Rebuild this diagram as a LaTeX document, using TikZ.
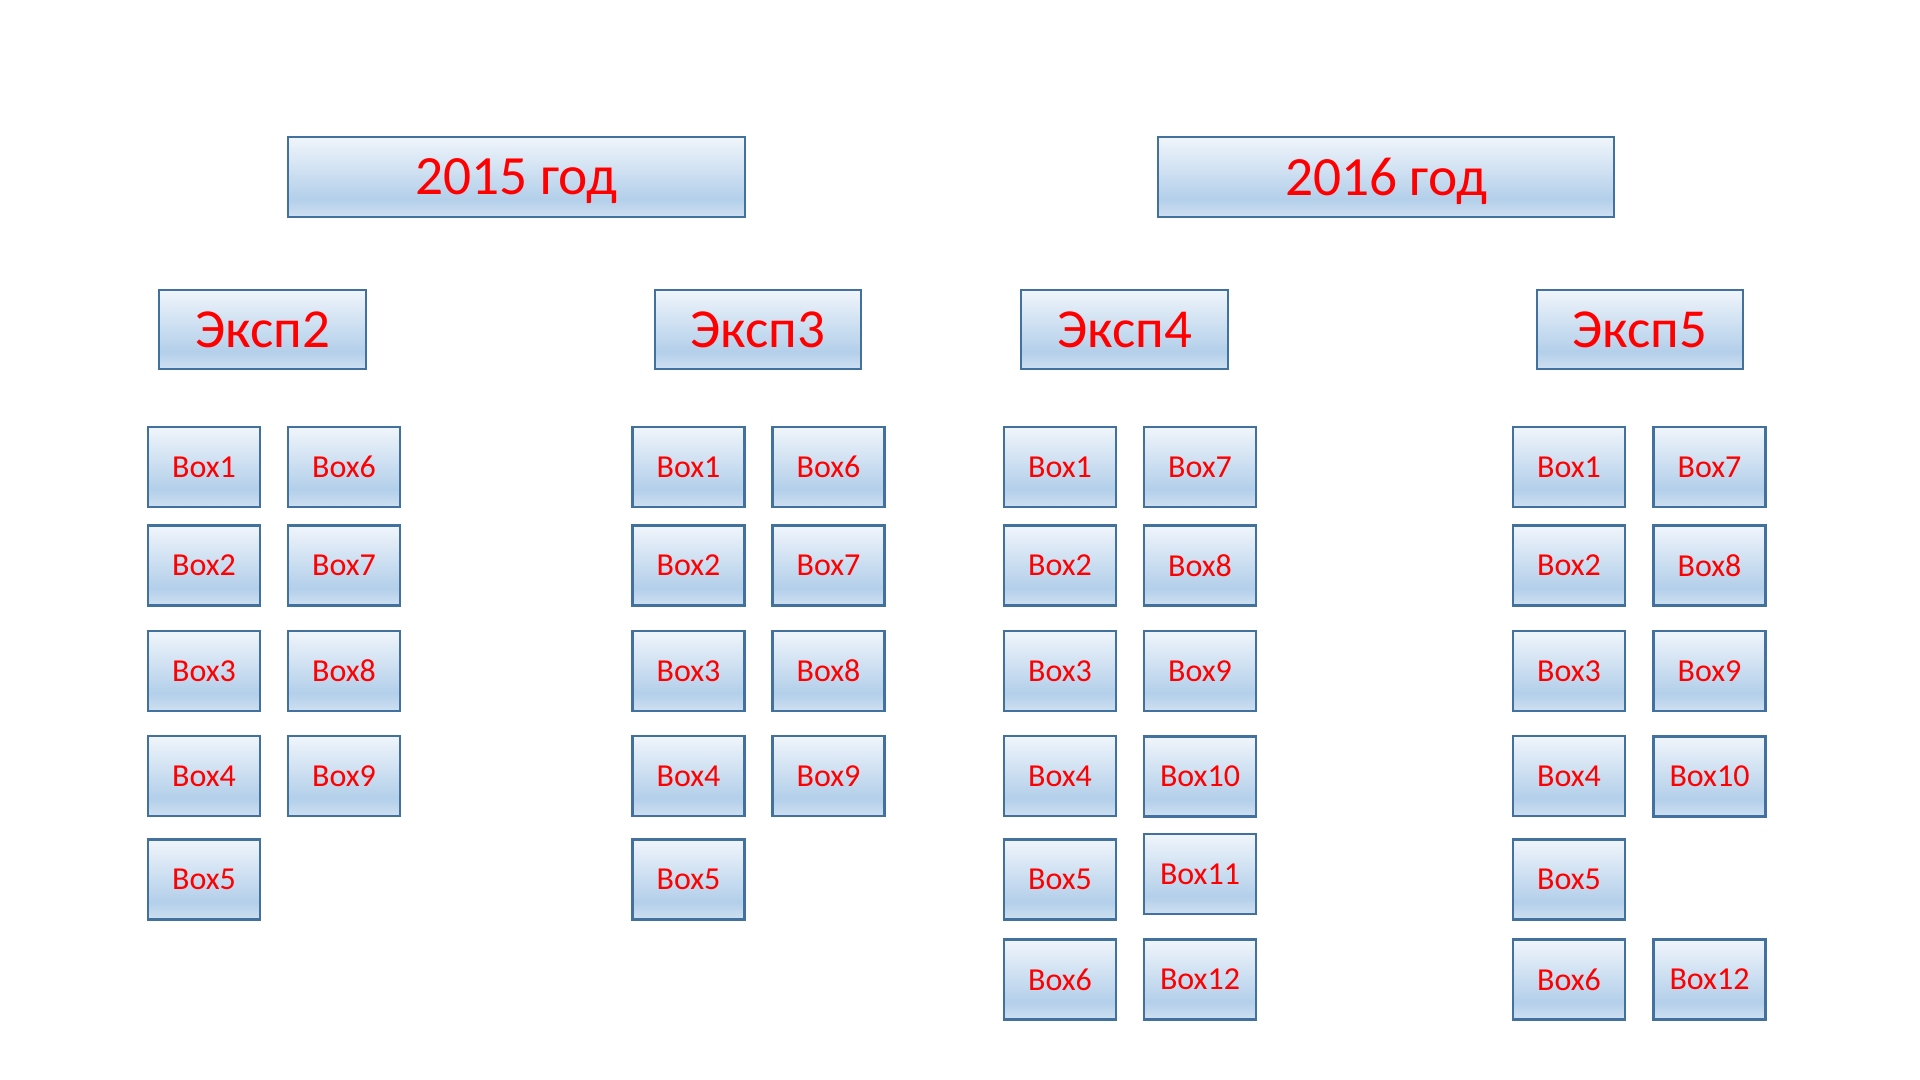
\documentclass[tikz,border=0pt]{standalone}
\usepackage{fontspec}
\setmainfont{Carlito}
\definecolor{shTop}{HTML}{F0F5FB}
\definecolor{shMid}{HTML}{B3CFEA}
\definecolor{shBot}{HTML}{CFE0F1}
\definecolor{edgeblue}{HTML}{41719C}
\pgfdeclareverticalshading{officeblue}{100bp}{color(0bp)=(shBot); color(25bp)=(shBot); color(36bp)=(shMid); color(75bp)=(shTop); color(100bp)=(shTop)}
\tikzset{
  panel/.style={draw=edgeblue, line width=1.1pt, shade, shading=officeblue, text=red, inner sep=0pt, text depth=0pt, anchor=center},
  smallbox/.style={panel, minimum width=56pt, minimum height=40pt, font=\fontsize{16}{18}\selectfont},
  headbox/.style={panel, minimum width=103.3pt, minimum height=39.6pt, font=\fontsize{27.5}{30}\selectfont},
  titlebox/.style={panel, minimum width=228.3pt, minimum height=39.8pt, font=\fontsize{27.7}{30}\selectfont},
}
\begin{document}
\begin{tikzpicture}[x=0.5pt, y=-0.5pt]
\fill[white] (0,0) rectangle (1920,1080);
\path[use as bounding box] (0,0) rectangle (1920,1080);

% titles
\node[titlebox] (t2015) at (516.5,177) {2015 год};
\node[titlebox] (t2016) at (1386,177) {2016 год};

% headers
\node[headbox] (e2) at (262.5,329.5) {Эксп2};
\node[headbox] (e3) at (758,329.5) {Эксп3};
\node[headbox] (e4) at (1124.5,329.5) {Эксп4};
\node[headbox] (e5) at (1640,329.5) {Эксп5};

% Exp2
\node[smallbox] (a1) at (204,467) {Box1};
\node[smallbox] (a2) at (204,565.5) {Box2};
\node[smallbox] (a3) at (204,671) {Box3};
\node[smallbox] (a4) at (204,776) {Box4};
\node[smallbox] (a5) at (204,879.5) {Box5};
\node[smallbox] (a6) at (344,467) {Box6};
\node[smallbox] (a7) at (344,565.5) {Box7};
\node[smallbox] (a8) at (344,671) {Box8};
\node[smallbox] (a9) at (344,776) {Box9};

% Exp3
\node[smallbox] (b1) at (688.5,467) {Box1};
\node[smallbox] (b2) at (688.5,565.5) {Box2};
\node[smallbox] (b3) at (688.5,671) {Box3};
\node[smallbox] (b4) at (688.5,776) {Box4};
\node[smallbox] (b5) at (688.5,879.5) {Box5};
\node[smallbox] (b6) at (828.5,467) {Box6};
\node[smallbox] (b7) at (828.5,565.5) {Box7};
\node[smallbox] (b8) at (828.5,671) {Box8};
\node[smallbox] (b9) at (828.5,776) {Box9};

% Exp4
\node[smallbox] (c1) at (1060,467) {Box1};
\node[smallbox] (c2) at (1060,565.5) {Box2};
\node[smallbox] (c3) at (1060,671) {Box3};
\node[smallbox] (c4) at (1060,776) {Box4};
\node[smallbox] (c5) at (1060,879.5) {Box5};
\node[smallbox] (c6) at (1060,979.5) {Box6};
\node[smallbox] (c7) at (1200,467) {Box7};
\node[smallbox] (c8) at (1200,565.5) {Box8};
\node[smallbox] (c9) at (1200,671) {Box9};
\node[smallbox] (c10) at (1200,776.5) {Box10};
\node[smallbox] (c11) at (1200,874) {Box11};
\node[smallbox] (c12) at (1200,979.5) {Box12};

% Exp5
\node[smallbox] (d1) at (1569,467) {Box1};
\node[smallbox] (d2) at (1569,565.5) {Box2};
\node[smallbox] (d3) at (1569,671) {Box3};
\node[smallbox] (d4) at (1569,776) {Box4};
\node[smallbox] (d5) at (1569,879.5) {Box5};
\node[smallbox] (d6) at (1569,979.5) {Box6};
\node[smallbox] (d7) at (1709.5,467) {Box7};
\node[smallbox] (d8) at (1709.5,565.5) {Box8};
\node[smallbox] (d9) at (1709.5,671) {Box9};
\node[smallbox] (d10) at (1709.5,776.5) {Box10};
\node[smallbox] (d12) at (1709.5,979.5) {Box12};
\end{tikzpicture}
\end{document}
